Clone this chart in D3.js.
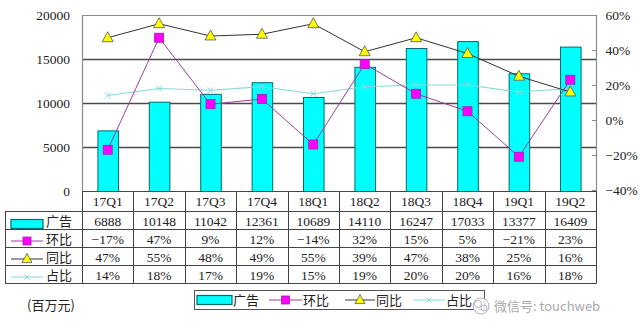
<!DOCTYPE html>
<html><head><meta charset="utf-8">
<script src="https://cdn.jsdelivr.net/npm/d3@7"></script>
<style>
html,body{margin:0;padding:0;background:#fff;}
svg{display:block;}
text{font-family:"Liberation Serif","Noto Sans CJK SC",serif;font-size:13.5px;fill:#222;}
.cn{font-family:"Noto Sans CJK SC","Liberation Serif",sans-serif;font-size:13px;}
</style></head>
<body>
<svg id="c" width="640" height="333"></svg>
<script>
const categories = ["17Q1","17Q2","17Q3","17Q4","18Q1","18Q2","18Q3","18Q4","19Q1","19Q2"];
const ads   = [6888,10148,11042,12361,10689,14110,16247,17033,13377,16409];
const qoq   = [-17,47,9,12,-14,32,15,5,-21,23];   // 环比 %
const yoy   = [47,55,48,49,55,39,47,38,25,16];    // 同比 %
const share = [14,18,17,19,15,19,20,20,16,18];    // 占比 %
const leftTicks  = [0,5000,10000,15000,20000];
const rightTicks = [-40,-20,0,20,40,60];
const seriesNames = ["广告","环比","同比","占比"];
const unitLabel = "(百万元)";
const watermark = "微信号: touchweb";

const svg = d3.select("#c");
const L = 82, R = 596, T = 15, B = 191;
const x = d3.scaleBand().domain(categories).range([L, R]).padding(0);
const yL = d3.scaleLinear().domain([0,20000]).range([B, T]);
const yR = d3.scaleLinear().domain([-40,60]).range([B-1, T]);
const pct = v => d3.format("d")(v) + "%";

const C = {bar:"#00ffff", barStroke:"#006b6b", qoq:"#9b3f9b", qoqM:"#ff00ff",
           yoy:"#333333", yoyM:"#ffff00", share:"#88d8d8", grid:"#4a4a4a", border:"#8a8a8a", table:"#444"};

// gridlines
svg.append("g").selectAll("line").data(leftTicks.filter(d=>d>0 && d<20000)).join("line")
  .attr("x1",L).attr("x2",R).attr("y1",d=>yL(d)+0.5).attr("y2",d=>yL(d)+0.5)
  .attr("stroke",C.grid).attr("stroke-width",1.3);
// plot border (top, left, right)
svg.append("path").attr("d",`M${L+0.5},${B}V${T+0.5}H${R+0.5}V${B}`)
  .attr("fill","none").attr("stroke",C.border).attr("stroke-width",1.2);

// left axis labels
svg.append("g").selectAll("text").data(leftTicks).join("text")
  .attr("x",70).attr("y",d=>yL(d)).attr("dy","0.35em").attr("text-anchor","end")
  .text(d=>d);
// right axis ticks + labels
const gR = svg.append("g").attr("transform",`translate(${R+0.5},0)`);
gR.call(d3.axisRight(yR).tickValues(rightTicks).tickSize(0).tickFormat(pct));
gR.select(".domain").remove();
gR.selectAll("text").attr("x",9).attr("text-anchor","start").attr("font-size",13.5)
  .style("font-family",'"Liberation Serif","Noto Sans CJK SC",serif').attr("fill","#222");
svg.append("g").selectAll("line").data(rightTicks).join("line")
  .attr("x1",R-4).attr("x2",R).attr("y1",d=>yR(d)+0.5).attr("y2",d=>yR(d)+0.5)
  .attr("stroke",C.border);

// bars
const bw = x.bandwidth()*0.4;
svg.append("g").selectAll("rect").data(ads).join("rect")
  .attr("x",(d,i)=>x(categories[i])+x.bandwidth()/2-bw/2+0.5)
  .attr("y",d=>yL(d)+0.5).attr("width",bw).attr("height",d=>B-yL(d))
  .attr("fill",C.bar).attr("stroke",C.barStroke).attr("stroke-width",1);

const cx = i => x(categories[i]) + x.bandwidth()/2;
const line = d3.line().x((d,i)=>cx(i)).y(d=>yR(d));

function square(g, X, Y, s){ g.append("rect").attr("x",X-s/2).attr("y",Y-s/2).attr("width",s).attr("height",s)
  .attr("fill",C.qoqM).attr("stroke","#a020a0").attr("stroke-width",0.8); }
function tri(g, X, Y, s){ const h=s*0.9; g.append("path")
  .attr("d",`M${X},${Y-h*0.6}L${X+s/2},${Y+h*0.4}L${X-s/2},${Y+h*0.4}Z`)
  .attr("fill",C.yoyM).attr("stroke","#555").attr("stroke-width",0.8); }
function cross(g, X, Y, s){ g.append("path").attr("d",`M${X-s/2},${Y-s/2}L${X+s/2},${Y+s/2}M${X-s/2},${Y+s/2}L${X+s/2},${Y-s/2}`)
  .attr("stroke",C.share).attr("stroke-width",1); }

// 占比 line
const gS = svg.append("g");
gS.append("path").datum(share).attr("d",line).attr("fill","none").attr("stroke",C.share).attr("stroke-width",1.2);
share.forEach((d,i)=>cross(gS,cx(i),yR(d),6));
// 环比 line
const gQ = svg.append("g");
gQ.append("path").datum(qoq).attr("d",line).attr("fill","none").attr("stroke",C.qoq).attr("stroke-width",1);
qoq.forEach((d,i)=>square(gQ,cx(i),yR(d),9));
// 同比 line
const gY = svg.append("g");
gY.append("path").datum(yoy).attr("d",line).attr("fill","none").attr("stroke",C.yoy).attr("stroke-width",1);
yoy.forEach((d,i)=>tri(gY,cx(i),yR(d),11));

// data table
const rowsY = [191,211,229,247,265,283];
const tg = svg.append("g");
const tl = (x1,y1,x2,y2)=>tg.append("line").attr("x1",x1).attr("y1",y1).attr("x2",x2).attr("y2",y2)
  .attr("stroke",C.table).attr("stroke-width",1);
tl(L,191.5,R+0.5,191.5);
for(let r=1;r<rowsY.length;r++) tl(5,rowsY[r]+0.5,R+0.5,rowsY[r]+0.5);
tl(5.5,211,5.5,283.5);
categories.forEach((c,i)=>tl(Math.round(x(c))+0.5,191,Math.round(x(c))+0.5,283.5));
tl(R+0.5,191,R+0.5,283.5);
// category row
tg.selectAll("text.cat").data(categories).join("text").attr("class","cat")
  .attr("x",d=>cx(categories.indexOf(d))).attr("y",201.5).attr("dy","0.35em").attr("text-anchor","middle").text(d=>d);
const rows = [ads.map(String), qoq.map(pct), yoy.map(pct), share.map(pct)];
rows.forEach((row,r)=>{
  const ym = (rowsY[r+1]+rowsY[r+2])/2+1;
  row.forEach((v,i)=>tg.append("text").attr("x",cx(i)).attr("y",ym).attr("dy","0.35em")
    .attr("text-anchor","middle").text(v.replace("-","−")));
  tg.append("text").attr("class","cn").attr("x",46).attr("y",ym).attr("dy","0.35em").text(seriesNames[r]);
});
// legend icons inside table
function icon(g, k, x0, x1, y){
  const m=(x0+x1)/2;
  if(k===0){ g.append("rect").attr("x",x0).attr("y",y-4.5).attr("width",x1-x0).attr("height",9)
      .attr("fill",C.bar).attr("stroke",C.barStroke).attr("stroke-width",1.2); }
  else if(k===1){ g.append("line").attr("x1",x0).attr("x2",x1).attr("y1",y).attr("y2",y).attr("stroke",C.qoq); square(g,m,y,8); }
  else if(k===2){ g.append("line").attr("x1",x0).attr("x2",x1).attr("y1",y).attr("y2",y).attr("stroke",C.yoy); tri(g,m,y,10); }
  else { g.append("line").attr("x1",x0).attr("x2",x1).attr("y1",y).attr("y2",y).attr("stroke",C.share); cross(g,m,y,5); }
}
[0,1,2,3].forEach(k=>icon(tg,k,11,43,(rowsY[k+1]+rowsY[k+2])/2+(k===0?4:3)));

// unit label
svg.append("text").attr("class","cn").attr("x",27).attr("y",305).attr("dy","0.35em").attr("font-size",13.5).text(unitLabel);

// bottom legend
const lg = svg.append("g");
lg.append("rect").attr("x",194.5).attr("y",290.5).attr("width",290).attr("height",19)
  .attr("fill","#fff").attr("stroke","#555").attr("stroke-width",1);
const legX = [[197,232],[269,302],[345,375],[413,445]];
legX.forEach(([a,b],k)=>{
  icon(lg,k,a,b,300);
  lg.append("text").attr("class","cn").attr("x",b+1).attr("y",300).attr("dy","0.35em").text(seriesNames[k]);
});

// watermark
const wm = svg.append("g").attr("opacity",0.85);
wm.append("circle").attr("cx",481).attr("cy",306).attr("r",8).attr("fill","#fff").attr("stroke","#aaa").attr("stroke-width",1);
wm.append("circle").attr("cx",478).attr("cy",304).attr("r",3.5).attr("fill","none").attr("stroke","#aaa");
wm.append("circle").attr("cx",484).attr("cy",308).attr("r",3).attr("fill","none").attr("stroke","#aaa");
wm.append("text").attr("class","cn").attr("x",494).attr("y",306).attr("dy","0.35em")
  .attr("font-size",15.5).attr("fill","#9a9a9a").style("fill","#9a9a9a").text(watermark);
</script>
</body></html>
